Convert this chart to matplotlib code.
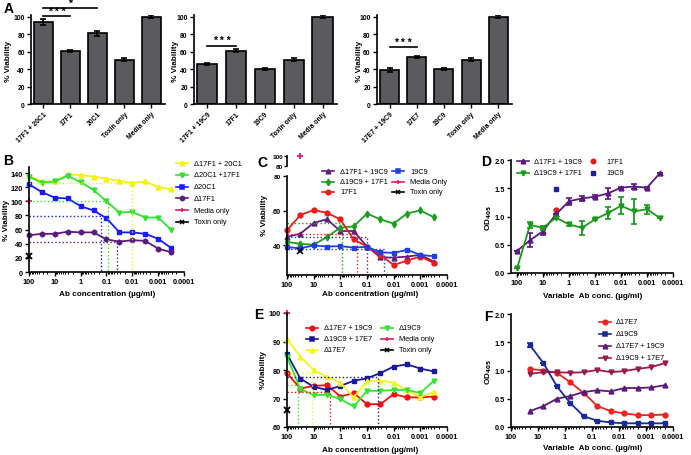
import matplotlib
matplotlib.use('Agg')
import matplotlib.pyplot as plt
import numpy as np
from matplotlib.lines import Line2D
from matplotlib.ticker import FixedLocator, FixedFormatter, LogLocator, NullFormatter

plt.rcParams['font.family'] = ['Liberation Sans', 'DejaVu Sans']

# ---------------- data ----------------
a1_labels = ['17F1 + 20C1', '17F1', '20C1', 'Toxin only', 'Media only']
a1_vals = [94, 61, 81, 51, 100]
a1_err = [3, 1, 2.5, 1.5, 1.5]
a2_labels = ['17F1 + 19C9', '17F1', '19C9', 'Toxin only', 'Media only']
a2_vals = [46, 61, 40, 51, 100]
a2_err = [1, 1.5, 0.8, 1.5, 1.5]
a3_labels = ['17E7 + 19C9', '17E7', '19C9', 'Toxin only', 'Media only']
a3_vals = [39, 54, 40, 51, 100]
a3_err = [2, 1, 1, 1.5, 1.5]

conc = [100, 31.6, 10, 3.16, 1, 0.316, 0.1, 0.0316, 0.01, 0.00316, 0.001, 0.000316]
conc_f = [20, 6.3, 2, 0.63, 0.2, 0.063, 0.02, 0.0063, 0.002, 0.00063, 0.0002]
log_ticks = [100, 10, 1, 0.1, 0.01, 0.001, 0.0001]
log_labels = ['100', '10', '1', '0.1', '0.01', '0.001', '0.0001']

# B
b_d17f1_20c1 = [136, 128, 128, 138, 137, 135, 132, 129, 126, 128, 120, 117]
b_d20c1_17f1 = [135, 126, 128, 136, 127, 116, 100, 84, 85, 77, 77, 60]
b_d20c1 = [124, 113, 105, 104, 93, 87, 76, 56, 56, 54, 47, 34]
b_d17f1 = [52, 54, 54, 57, 56, 56, 46, 43, 45, 44, 33, 28]
b_media = 100
b_toxin = 23
b_ref_y = [126, 100, 79, 42]
b_ref_x = [0.01, 0.085, 0.158, 0.04]

# C
c_d17f1_19c9 = [44.9, 46.8, 53, 55.1, 48.3, 48.3, 39.4, 33.2, 33, 33.6, 34.6, 30.7]
c_d19c9_17f1 = [42, 41, 40.4, 44.9, 50.3, 51, 58.4, 55, 52.6, 58.4, 60.2, 56.3]
c_17f1 = [48.7, 57.5, 60.4, 58.8, 55, 43.5, 39.4, 34.6, 28.7, 31.3, 33.6, 30]
c_19c9 = [39, 38.4, 40, 39.4, 39.6, 38.8, 39.2, 36.1, 35.7, 37.5, 34.6, 33.8]
c_media = 100
c_toxin = 36.7
c_ref_y = [53, 46.8, 44.9, 37.7]
c_ref_x = [0.87, 0.237, 0.1, 0.0237]

# D
d_d17f1_19c9 = [0.39, 0.58, 0.74, 1.04, 1.27, 1.32, 1.35, 1.41, 1.51, 1.53, 1.51, 1.77]
d_d17f1_19c9_err = [0, 0.12, 0.06, 0, 0.06, 0.04, 0.03, 0.1, 0.02, 0.05, 0.02, 0]
d_d19c9_17f1 = [0.08, 0.85, 0.8, 0.98, 0.86, 0.8, 0.95, 1.06, 1.19, 1.09, 1.13, 0.97]
d_d19c9_17f1_err = [0, 0.06, 0.04, 0.03, 0.03, 0.12, 0.02, 0.1, 0.15, 0.22, 0.08, 0]
d_17f1 = 1.12
d_19c9 = 1.48
d_single_x = 3.16

# E
e_d17e7_19c9 = [78.9, 73.5, 74.4, 74.7, 70.7, 71.9, 68, 68, 71.5, 70.4, 70.4, 70.7]
e_d19c9_17e7 = [85.6, 77, 74.1, 73, 74.4, 76.2, 77.1, 78.9, 81.2, 82, 80.5, 79.5]
e_d17e7 = [90.8, 84.7, 80, 77.6, 75.6, 70.4, 76, 76.2, 75.6, 72.9, 70.4, 72.3]
e_d19c9 = [84.7, 73.3, 71.2, 71.3, 69.8, 67.2, 72.7, 72.7, 73, 73, 71.9, 76.2]
e_media = 100
e_toxin = 66
e_ref_y = [74.8, 72.3, 79.1, 77.4]
e_ref_x = [39, 2.37, 11.2, 0.039]

# F
f_d17e7 = [1.03, 1.0, 0.96, 0.79, 0.6, 0.37, 0.28, 0.24, 0.21, 0.21, 0.22]
f_d19c9 = [1.45, 1.13, 0.72, 0.42, 0.19, 0.11, 0.08, 0.065, 0.065, 0.065, 0.065]
f_d19c9_err = [0.04, 0, 0, 0, 0, 0, 0, 0, 0, 0, 0]
f_d17e7_19c9 = [0.28, 0.37, 0.5, 0.55, 0.62, 0.65, 0.63, 0.69, 0.69, 0.7, 0.74]
f_d19c9_17e7 = [0.94, 0.97, 0.97, 0.96, 0.97, 1.01, 0.97, 0.99, 1.03, 1.06, 1.13]

# ---------------- figure ----------------
W, H = 691, 456
fig = plt.figure(figsize=(W / 100, H / 100), dpi=100)

TICK_FS = 5.3
LAB_FS = 5.9
LEG_FS = 5.3

def axpx(l, t, r, b):
    return fig.add_axes([l / W, 1 - b / H, (r - l) / W, (b - t) / H])

def fx(x):
    return x / W

def fy(y):
    return 1 - y / H

def style(ax, fs=TICK_FS):
    for s in ['top', 'right']:
        ax.spines[s].set_visible(False)
    for s in ['left', 'bottom']:
        ax.spines[s].set_linewidth(1.2)
    ax.tick_params(direction='out', length=3, width=1, labelsize=fs, pad=1.5)
    for lab in ax.get_xticklabels() + ax.get_yticklabels():
        lab.set_fontweight('bold')

def logx(ax, left, right):
    ax.set_xscale('log')
    ax.set_xlim(left, right)
    ax.xaxis.set_major_locator(FixedLocator(log_ticks))
    ax.xaxis.set_major_formatter(FixedFormatter(log_labels))
    ax.xaxis.set_minor_locator(LogLocator(base=10, subs=np.arange(2, 10) * 1.0, numticks=30))
    ax.xaxis.set_minor_formatter(NullFormatter())
    ax.tick_params(axis='x', which='minor', length=1.5, width=0.7)

def leg(x, y, color, marker, label, line=True, ms=3.3, half=6, toff=12, fs=LEG_FS):
    if line:
        fig.add_artist(Line2D([fx(x - half), fx(x), fx(x + half)], [fy(y)] * 3,
                              transform=fig.transFigure, color=color, lw=1.2,
                              marker=marker, markevery=[1], ms=ms, mew=1.1))
    else:
        fig.add_artist(Line2D([fx(x)], [fy(y)], transform=fig.transFigure, color=color,
                              lw=0, marker=marker, ms=ms))
    fig.text(fx(x + toff), fy(y), label, fontsize=fs, va='center', ha='left')

def ylab(x, y, s, fs=LAB_FS):
    fig.text(fx(x), fy(y), s, rotation=90, ha='center', va='center', fontsize=fs, fontweight='bold')

def xlab(x, y, s, fs=LAB_FS):
    fig.text(fx(x), fy(y), s, ha='center', va='center', fontsize=fs, fontweight='bold')

def plabel(x, y, s):
    fig.text(fx(x), fy(y), s, ha='left', va='center', fontsize=10, fontweight='bold')

# ---------------- Panel A ----------------
A_pos = [(31, 165), (194, 337), (377, 512)]
A_data = [(a1_labels, a1_vals, a1_err), (a2_labels, a2_vals, a2_err), (a3_labels, a3_vals, a3_err)]
A_ylx = [9, 176, 359]
axA = []
for (l, r), (labs, vals, errs), yx in zip(A_pos, A_data, A_ylx):
    ax = axpx(l, 16, r, 105)
    xs = np.arange(len(vals))
    ax.bar(xs, vals, width=0.7, color='#5a5a5f', edgecolor='black', linewidth=1.2, zorder=2)
    ax.errorbar(xs, vals, yerr=errs, fmt='none', ecolor='black', elinewidth=1.2, capsize=2.5,
                capthick=1.2, zorder=3)
    ax.set_xlim(-0.46, 4.5)
    ax.set_ylim(0, 102)
    ax.set_yticks([0, 20, 40, 60, 80, 100])
    ax.set_xticks(xs)
    ax.set_xticklabels(labs, rotation=45, ha='right', rotation_mode='anchor')
    style(ax, fs=4.9)
    ylab(yx, 61, '% Viability')
    axA.append(ax)

def sig(ax, x0, x1, y, txt):
    ax.plot([x0, x1], [y, y], color='black', lw=1.2, clip_on=False)
    ax.text((x0 + x1) / 2, y + 0.3, txt, ha='center', va='bottom', fontsize=7.5,
            fontweight='bold', clip_on=False)

sig(axA[0], 0, 1, 101, '* * *')
sig(axA[0], 0, 2, 110, '*')
sig(axA[1], 0, 1, 67, '* * *')
sig(axA[2], 0, 1, 65, '* * *')
plabel(4, 9, 'A')

# ---------------- Panel B ----------------
c_yel = '#f2f20c'
c_lg = '#33e033'
c_bl = '#1a1aff'
c_pu = '#5b1a7e'
c_pk = '#e8176f'

axB = axpx(29, 168, 184, 273)
logx(axB, 100, 1e-4)
axB.set_ylim(0, 148.5)
axB.set_yticks([0, 20, 40, 60, 80, 100, 120, 140])
kw = dict(lw=1.3, ms=3.5, clip_on=False)
axB.plot(conc, b_d17f1_20c1, color=c_yel, marker='^', **kw)
axB.plot(conc, b_d20c1_17f1, color=c_lg, marker='v', **kw)
axB.plot(conc, b_d20c1, color=c_bl, marker='s', **kw)
axB.plot(conc, b_d17f1, color=c_pu, marker='h', **kw)
axB.plot([100], [b_media], color=c_pk, marker='+', ms=5, mew=1.3, clip_on=False)
axB.plot([100], [b_toxin], color='black', marker='x', ms=4, mew=1.3, clip_on=False)
for yv, xv, col in zip(b_ref_y, b_ref_x, [c_yel, c_lg, c_bl, c_pu]):
    axB.plot([100, xv, xv], [yv, yv, 0], color=col, ls=':', lw=1.0)
style(axB)
ylab(6, 220, '% Viability')
xlab(107, 294, 'Ab concentration (\u00b5g/ml)')
plabel(3, 161, 'B')
for i, (lab, col, mk) in enumerate([('\u039417F1 + 20C1', c_yel, '^'), ('\u039420C1 +17F1', c_lg, 'v'),
                                    ('\u039420C1', c_bl, 's'), ('\u039417F1', c_pu, 'h'),
                                    ('Media only', c_pk, '+'), ('Toxin only', 'black', 'x')]):
    leg(182, 164 + i * 11.8, col, mk, lab)

# ---------------- Panel C ----------------
cc_pu = '#5c1f80'
cc_gr = '#1e9e1e'
cc_rd = '#ee1c1c'
cc_bl = '#1f3fe0'
axC = axpx(287, 177, 447, 276)
logx(axC, 100, 1e-4)
axC.set_ylim(23, 80)
axC.set_yticks([40, 60, 80])
axC.plot(conc, c_d17f1_19c9, color=cc_pu, marker='^', **kw)
axC.plot(conc, c_d19c9_17f1, color=cc_gr, marker='d', **kw)
axC.plot(conc, c_17f1, color=cc_rd, marker='o', **kw)
axC.plot(conc, c_19c9, color=cc_bl, marker='s', **kw)
axC.plot([31.6], [c_toxin], color='black', marker='x', ms=4, mew=1.3)
for yv, xv, col in zip(c_ref_y, c_ref_x, [cc_gr, cc_rd, cc_pu, cc_bl]):
    axC.plot([100, xv, xv], [yv, yv, 23], color=col, ls=':', lw=1.0)
style(axC)
axC.get_yticklabels()[-1].set_fontsize(4.6)
axCu = axpx(287, 157, 447, 167)
axCu.set_xscale('log')
axCu.set_xlim(100, 1e-4)
axCu.set_ylim(80, 100)
axCu.set_yticks([80, 100])
axCu.set_xticks([])
axCu.xaxis.set_minor_locator(FixedLocator([]))
axCu.patch.set_visible(False)
axCu.plot([31.6], [c_media], color=c_pk, marker='+', ms=5, mew=1.3, clip_on=False)
style(axCu, fs=4.6)
axCu.tick_params(axis='y', length=2, pad=1)
axCu.spines['bottom'].set_visible(False)
ylab(265, 215, '% Viability')
xlab(370, 295, 'Ab concentration (\u00b5g/ml)')
plabel(257, 163, 'C')
leg(328, 172, cc_pu, '^', '\u039417F1 + 19C9')
leg(328, 182.5, cc_gr, 'd', '\u039419C9 + 17F1')
leg(328, 193, cc_rd, 'o', '17F1')
leg(398, 172, cc_bl, 's', '19C9')
leg(398, 182.5, c_pk, '+', 'Media Only')
leg(398, 193, 'black', 'x', 'Toxin only')

# ---------------- Panel D ----------------
dd_pu = '#5b1a80'
dd_gr = '#1a9a1a'
dd_rd = '#e41a1c'
dd_bl = '#1f1f9f'
axD = axpx(511, 161, 673, 274)
logx(axD, 170, 1e-4)
axD.set_ylim(0, 2.0)
axD.set_yticks([0, 0.5, 1.0, 1.5, 2.0])
axD.set_yticklabels(['0.0', '0.5', '1.0', '1.5', '2.0'])
axD.errorbar(conc, d_d17f1_19c9, yerr=d_d17f1_19c9_err, color=dd_pu, marker='^', lw=1.3,
             ms=3.5, capsize=2, elinewidth=1.3, capthick=1.2)
axD.errorbar(conc, d_d19c9_17f1, yerr=d_d19c9_17f1_err, color=dd_gr, marker='v', lw=1.3,
             ms=3.5, capsize=2, elinewidth=1.3, capthick=1.2)
axD.plot([d_single_x], [d_17f1], color=dd_rd, marker='o', ms=3.5, lw=0)
axD.plot([d_single_x], [d_19c9], color=dd_bl, marker='s', ms=3.5, lw=0)
style(axD)
ylab(489, 218, 'OD$_{\\mathbf{405}}$')
xlab(593, 297, 'Variable  Ab conc. (\u00b5g/ml)')
plabel(481, 162, 'D')
leg(523, 162, dd_pu, '^', '\u039417F1 + 19C9', toff=11)
leg(523, 174, dd_gr, 'v', '\u039419C9 + 17F1', toff=11)
leg(593, 162, dd_rd, 'o', '17F1', line=False, toff=13)
leg(593, 174, dd_bl, 's', '19C9', line=False, toff=13)

# ---------------- Panel E ----------------
ee_rd = '#ee1111'
ee_nv = '#1a1a99'
ee_ye = '#f5f520'
ee_gr = '#33e833'
axE = axpx(287, 314, 447, 428)
logx(axE, 100, 1e-4)
axE.set_ylim(60, 100)
axE.set_yticks([60, 70, 80, 90, 100])
axE.plot(conc, e_d17e7_19c9, color=ee_rd, marker='o', **kw)
axE.plot(conc, e_d19c9_17e7, color=ee_nv, marker='s', **kw)
axE.plot(conc, e_d17e7, color=ee_ye, marker='^', **kw)
axE.plot(conc, e_d19c9, color=ee_gr, marker='v', **kw)
axE.plot([100], [e_media], color=c_pk, marker='+', ms=5, mew=1.3, clip_on=False)
axE.plot([100], [e_toxin], color='black', marker='x', ms=4, mew=1.3, clip_on=False)
for yv, xv, col in zip(e_ref_y, e_ref_x, [ee_gr, ee_rd, ee_ye, ee_nv]):
    axE.plot([100, xv, xv], [yv, yv, 60], color=col, ls=':', lw=1.0)
style(axE)
ylab(263, 370, '%Viability')
xlab(370, 451, 'Ab concentration (\u00b5g/ml)')
plabel(254, 315, 'E')
leg(312, 329, ee_rd, 'o', '\u039417E7 + 19C9')
leg(312, 340, ee_nv, 's', '\u039419C9 + 17E7')
leg(312, 351, ee_ye, '^', '\u039417E7')
leg(387, 329, ee_gr, 'v', '\u039419C9')
leg(387, 340, c_pk, '+', 'Media only')
leg(387, 351, 'black', 'x', 'Toxin only')

# ---------------- Panel F ----------------
ff_rd = '#ee2222'
ff_nv = '#1a2a9a'
ff_pu = '#5a1a7a'
ff_mr = '#9a1a4a'
axF = axpx(511, 315, 673, 428)
logx(axF, 100, 1e-4)
axF.set_ylim(0, 2.0)
axF.set_yticks([0, 0.5, 1.0, 1.5, 2.0])
axF.set_yticklabels(['0.0', '0.5', '1.0', '1.5', '2.0'])
axF.plot(conc_f, f_d17e7, color=ff_rd, marker='o', lw=1.3, ms=3.5)
axF.errorbar(conc_f, f_d19c9, yerr=f_d19c9_err, color=ff_nv, marker='s', lw=1.3, ms=3.5,
             capsize=2, elinewidth=1.3, capthick=1.2)
axF.plot(conc_f, f_d17e7_19c9, color=ff_pu, marker='^', lw=1.3, ms=3.5)
axF.plot(conc_f, f_d19c9_17e7, color=ff_mr, marker='v', lw=1.3, ms=3.5)
style(axF)
ylab(489, 372, 'OD$_{\\mathbf{405}}$')
xlab(593, 449, 'Variable  Ab conc. (\u00b5g/ml)')
plabel(484, 317, 'F')
leg(605, 323, ff_rd, 'o', '\u039417E7', toff=11)
leg(605, 335, ff_nv, 's', '\u039419C9', toff=11)
leg(605, 347, ff_pu, '^', '\u039417E7 + 19C9', toff=11)
leg(605, 359, ff_mr, 'v', '\u039419C9 + 17E7', toff=11)

fig.savefig('out.png', dpi=100)
